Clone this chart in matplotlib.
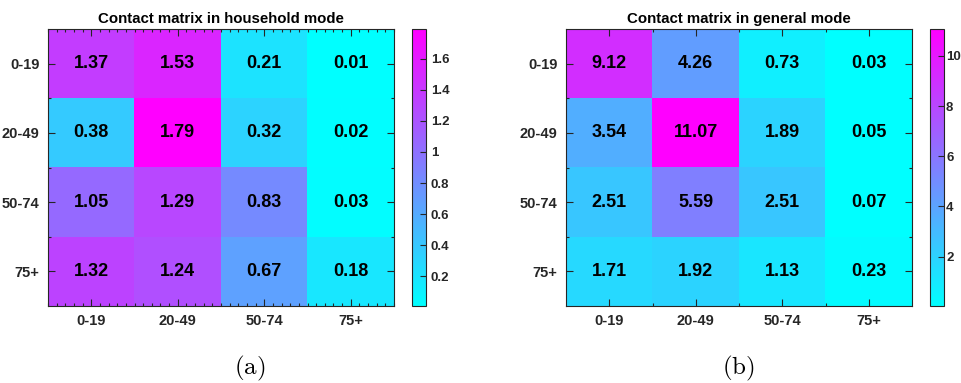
import numpy as np
import matplotlib.pyplot as plt
from matplotlib.ticker import MultipleLocator, FixedLocator

plt.rcParams["font.family"] = ["Liberation Sans", "DejaVu Sans"]
plt.rcParams["font.weight"] = "bold"
plt.rcParams["mathtext.fontset"] = "cm"

age_groups = ["0-19", "20-49", "50-74", "75+"]

household = [[1.37, 1.53, 0.21, 0.01],
             [0.38, 1.79, 0.32, 0.02],
             [1.05, 1.29, 0.83, 0.03],
             [1.32, 1.24, 0.67, 0.18]]

general = [[9.12, 4.26, 0.73, 0.03],
           [3.54, 11.07, 1.89, 0.05],
           [2.51, 5.59, 2.51, 0.07],
           [1.71, 1.92, 1.13, 0.23]]

titles = ["Contact matrix in household mode", "Contact matrix in general mode"]
captions = [r"$\mathrm{(a)}$", r"$\mathrm{(b)}$"]
cbar_ticks = [[0.2, 0.4, 0.6, 0.8, 1, 1.2, 1.4, 1.6], [2, 4, 6, 8, 10]]

W, H = 961, 383
fig = plt.figure(figsize=(W / 100, H / 100), dpi=100)

# pixel boxes: (left, top, right, bottom)
ax_boxes = [(48, 29, 394, 306), (566, 29, 912, 306)]
cb_boxes = [(412, 29, 426, 306), (930, 29, 944, 306)]
cb_pad = [3.5, 1.5]
cap_x = [250, 738]


def box(b):
    l, t, r, btm = b
    return [l / W, 1 - btm / H, (r - l) / W, (btm - t) / H]


for k, mat in enumerate([household, general]):
    m = np.array(mat)
    ax = fig.add_axes(box(ax_boxes[k]))
    im = ax.imshow(m, cmap="cool", aspect="auto",
                   vmin=m.min(), vmax=m.max(),
                   extent=(0.5, 4.5, 4.5, 0.5), interpolation="nearest")
    for i in range(4):
        for j in range(4):
            ax.text(j + 1, i + 1, f"{m[i, j]:.2f}", ha="center", va="center",
                    fontsize=13, fontweight="bold", color="black")
    ax.set_xticks([1, 2, 3, 4])
    ax.set_yticks([1, 2, 3, 4])
    ax.set_xticklabels(age_groups, fontsize=10.5, fontweight="bold", color="#262626")
    ax.set_yticklabels(age_groups, fontsize=10.5, fontweight="bold", color="#262626")
    if k == 0:
        ax.xaxis.set_minor_locator(MultipleLocator(0.1))
    else:
        ax.xaxis.set_minor_locator(FixedLocator([1.5, 2.5, 3.5]))
    ax.yaxis.set_minor_locator(FixedLocator([1.5, 2.5, 3.5]))
    ax.tick_params(which="both", direction="in", top=True, right=True,
                   color="#262626", width=0.8)
    ax.tick_params(which="major", length=5, pad=6)
    ax.tick_params(which="minor", length=2.5)
    for s in ax.spines.values():
        s.set_color("#262626")
        s.set_linewidth(0.8)
    ax.set_title(titles[k], fontsize=10.8, fontweight="bold", pad=4)

    cax = fig.add_axes(box(cb_boxes[k]))
    cb = fig.colorbar(im, cax=cax, ticks=cbar_ticks[k])
    cb.ax.set_yticklabels([f"{t:g}" for t in cbar_ticks[k]],
                          fontsize=9.5, fontweight="bold", color="#262626")
    cb.ax.tick_params(direction="in", length=4, color="#262626", width=0.8,
                      pad=cb_pad[k])
    cb.outline.set_edgecolor("#262626")
    cb.outline.set_linewidth(0.8)

    fig.text(cap_x[k] / W, 1 - 368 / H, captions[k], ha="center", va="center",
             fontsize=18)

fig.savefig("out.png", dpi=100)
